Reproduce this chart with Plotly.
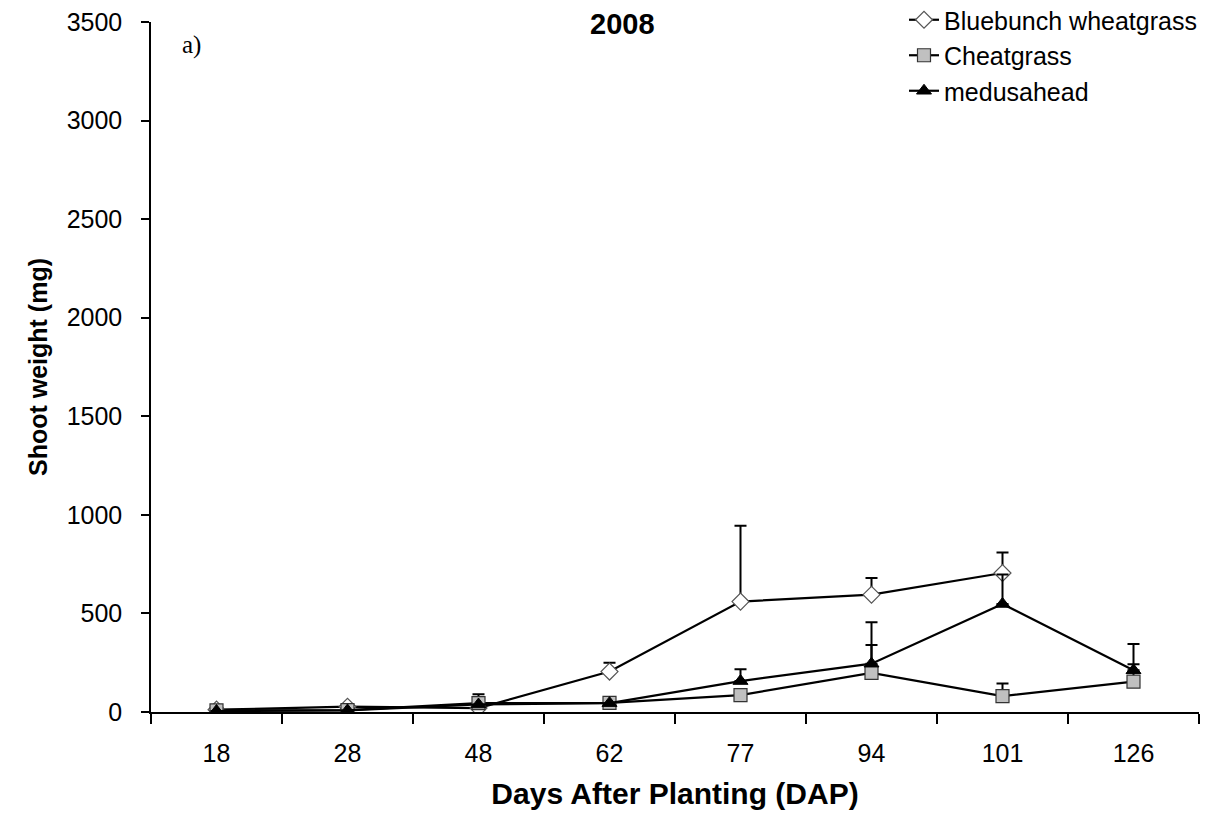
import plotly.graph_objects as go

dap = ["18", "28", "48", "62", "77", "94", "101", "126"]

blue_vals = [12, 27, 20, 205, 560, 595, 705, None]
blue_err = [0, 0, 0, 45, 385, 85, 104, 0]

cheat_vals = [8, 10, 45, 46, 86, 198, 81, 154]
cheat_err = [0, 0, 45, 0, 0, 142, 63, 88]

medusa_vals = [5, 8, 38, 45, 157, 245, 548, 212]
medusa_err = [0, 0, 0, 0, 60, 210, 150, 133]

y_ticks = [0, 500, 1000, 1500, 2000, 2500, 3000, 3500]

font_main = "Liberation Sans, Arial, sans-serif"

def err(arr):
    return dict(type="data", symmetric=False, array=arr, arrayminus=[0] * len(arr),
                color="black", thickness=2, width=6)

fig = go.Figure()
fig.add_trace(go.Scatter(
    x=dap, y=blue_vals, name="Bluebunch wheatgrass", mode="lines+markers",
    line=dict(color="black", width=2.2),
    marker=dict(symbol="diamond", size=13, color="white", line=dict(color="#555555", width=1.2)),
    error_y=err(blue_err), connectgaps=False,
))
fig.add_trace(go.Scatter(
    x=dap, y=cheat_vals, name="Cheatgrass", mode="lines+markers",
    line=dict(color="black", width=2.2),
    marker=dict(symbol="square", size=13, color="#c0c0c0", line=dict(color="#333333", width=1.2)),
    error_y=err(cheat_err),
))
fig.add_trace(go.Scatter(
    x=dap, y=medusa_vals, name="medusahead", mode="lines+markers",
    line=dict(color="black", width=2.2),
    marker=dict(symbol="triangle-up", size=13, color="black", line=dict(color="black", width=1)),
    error_y=err(medusa_err),
))

# page has an 8px body offset; margins chosen so the plot area lands at x 151-1199, y 22-712
ML, MR, MT, MB = 143, 34, 14, 115
W, H = 1225, 819
plot_w = W - ML - MR
plot_h = H - MT - MB
OFF = 8

def px_to_paper_x(px):
    return (px - OFF - ML) / plot_w

def px_to_paper_y(py):
    return 1 - (py - OFF - MT) / plot_h

fig.update_layout(
    width=W, height=H,
    margin=dict(l=ML, r=MR, t=MT, b=MB, autoexpand=False),
    paper_bgcolor="white", plot_bgcolor="white",
    font=dict(family=font_main, size=25, color="black"),
    showlegend=True,
    legend=dict(xref="paper", yref="paper", x=px_to_paper_x(904), y=px_to_paper_y(-3),
                xanchor="left", yanchor="top",
                font=dict(size=25, family=font_main), bgcolor="rgba(0,0,0,0)",
                tracegroupgap=0),
    xaxis=dict(
        type="category", categoryorder="array", categoryarray=dap,
        tickson="boundaries", ticks="outside", ticklen=10, tickcolor="black", tickwidth=1.5,
        showline=True, linecolor="black", linewidth=1.5, showgrid=False, zeroline=False,
        tickfont=dict(size=25), range=[-0.5, 7.5], ticklabelstandoff=18,
        ticklabeloverflow="allow",
        title=dict(text="<b>Days After Planting (DAP)</b>", font=dict(size=30), standoff=17),
    ),
    yaxis=dict(
        range=[0, 3500], tickvals=y_ticks, ticks="outside", ticklen=8, tickcolor="black",
        tickwidth=1.5, showline=True, linecolor="black", linewidth=1.5, showgrid=False,
        zeroline=False, tickfont=dict(size=25), ticklabelstandoff=14,
        ticklabeloverflow="allow",
        title=dict(text="<b>Shoot weight (mg)</b>", font=dict(size=25), standoff=12),
    ),
    annotations=[
        dict(text="<b>2008</b>", x=px_to_paper_x(622), y=px_to_paper_y(24),
             xref="paper", yref="paper", xanchor="center", yanchor="middle",
             showarrow=False, font=dict(size=29)),
        dict(text="a)", x=px_to_paper_x(180), y=px_to_paper_y(45),
             xref="paper", yref="paper", xanchor="left", yanchor="middle",
             showarrow=False,
             font=dict(size=25, family="Liberation Serif, Times New Roman, serif")),
    ],
)

fig.write_html("out.html")
